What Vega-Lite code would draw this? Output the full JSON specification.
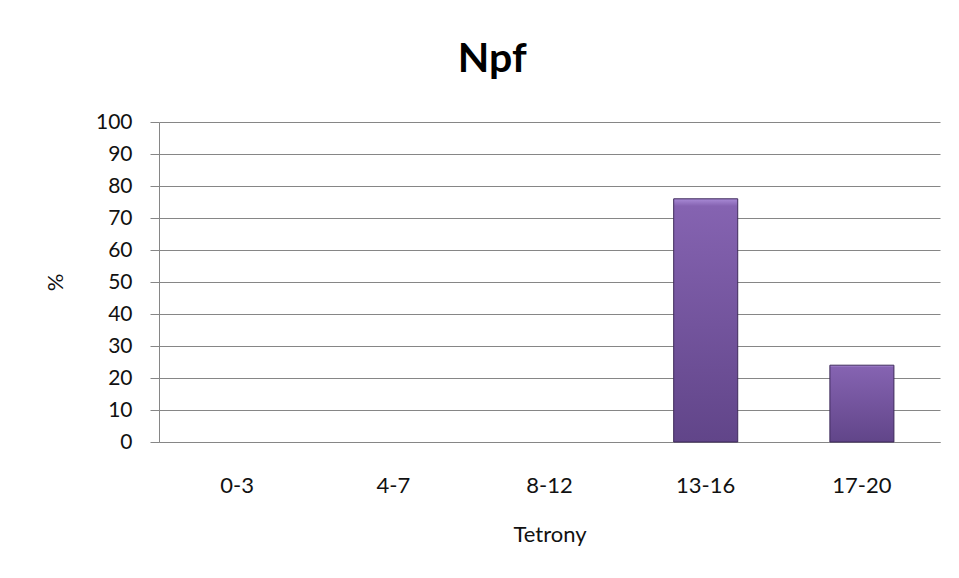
{
  "$schema": "https://vega.github.io/schema/vega-lite/v6.json",
  "width": 781,
  "height": 320,
  "autosize": {"type": "none"},
  "padding": {"left": 159, "top": 122, "right": 19, "bottom": 136},
  "background": "white",
  "title": {
    "text": "Npf",
    "font": "Lato",
    "fontSize": 41,
    "fontWeight": "bold",
    "color": "#000000",
    "anchor": "middle",
    "frame": "bounds",
    "offset": 30
  },
  "data": {
    "values": [
      {"Tetrony": "0-3", "pct": 0},
      {"Tetrony": "4-7", "pct": 0},
      {"Tetrony": "8-12", "pct": 0},
      {"Tetrony": "13-16", "pct": 76},
      {"Tetrony": "17-20", "pct": 24}
    ]
  },
  "mark": {
    "type": "bar",
    "stroke": "#3E2A5A",
    "color": {
      "gradient": "linear",
      "x1": 0, "y1": 0, "x2": 0, "y2": 1,
      "stops": [
        {"offset": 0, "color": "#A98BD6"},
        {"offset": 0.03, "color": "#8563B1"},
        {"offset": 1, "color": "#614589"}
      ]
    }
  },
  "encoding": {
    "x": {
      "field": "Tetrony",
      "type": "nominal",
      "sort": null,
      "scale": {"paddingInner": 0.59, "paddingOuter": 0.295},
      "axis": {
        "title": "Tetrony",
        "labelAngle": 0,
        "ticks": false,
        "labelPadding": 33,
        "titlePadding": 28,
        "domainColor": "#868686",
        "labelFont": "Lato",
        "labelFontSize": 22,
        "labelColor": "#111111",
        "titleFont": "Lato",
        "titleFontSize": 22,
        "titleFontWeight": "normal",
        "titleColor": "#111111"
      }
    },
    "y": {
      "field": "pct",
      "type": "quantitative",
      "scale": {"domain": [0, 100], "nice": false},
      "axis": {
        "title": "%",
        "values": [0, 10, 20, 30, 40, 50, 60, 70, 80, 90, 100],
        "tickSize": 9,
        "tickColor": "#868686",
        "domainColor": "#868686",
        "gridColor": "#868686",
        "gridOpacity": 1,
        "labelPadding": 18,
        "titlePadding": 28,
        "labelFont": "Lato",
        "labelFontSize": 21,
        "labelColor": "#111111",
        "titleFont": "Lato",
        "titleFontSize": 22,
        "titleFontWeight": "normal",
        "titleColor": "#111111"
      }
    },
    "strokeWidth": {
      "condition": {"test": "datum.pct === 0", "value": 0},
      "value": 1
    }
  },
  "config": {
    "view": {"stroke": null}
  }
}
